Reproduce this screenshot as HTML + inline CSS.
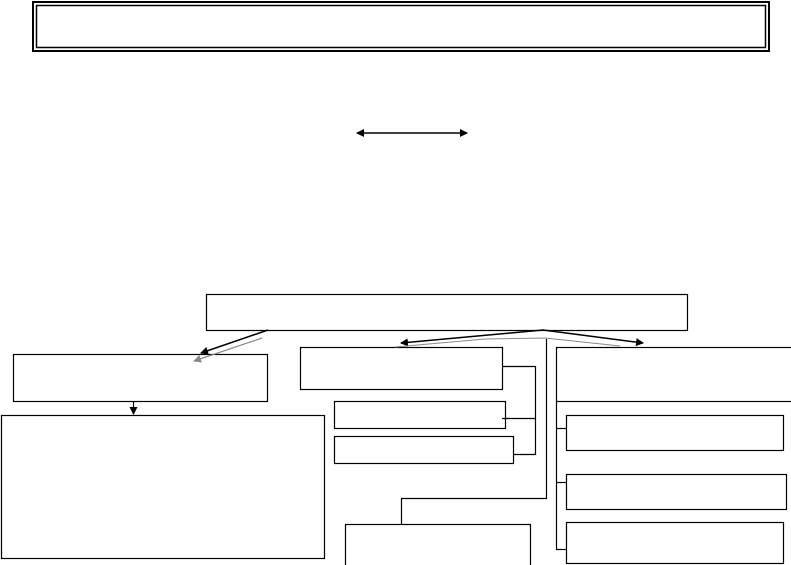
<!DOCTYPE html>
<html><head><meta charset="utf-8"><style>
html,body{margin:0;padding:0;background:#fff;width:791px;height:565px;overflow:hidden}
</style></head><body>
<svg width="791" height="565" viewBox="0 0 791 565" xmlns="http://www.w3.org/2000/svg">
<defs>
<marker id="ab" markerWidth="8" markerHeight="8" refX="7" refY="4" orient="auto-start-reverse" markerUnits="userSpaceOnUse"><path d="M0,0 L8,4 L0,8 z" fill="#000"/></marker>
<marker id="ag" markerWidth="8" markerHeight="8" refX="7" refY="4" orient="auto" markerUnits="userSpaceOnUse"><path d="M0,0 L8,4 L0,8 z" fill="#888"/></marker>
</defs>
<g fill="none" stroke="#000">
<rect x="33" y="2" width="736" height="49" stroke-width="2"/>
<rect x="36.5" y="5.5" width="729" height="42" stroke-width="1.5"/>
<line x1="357" y1="133" x2="467" y2="133" stroke-width="1.5" marker-start="url(#ab)" marker-end="url(#ab)"/>
<rect x="206.5" y="294.5" width="481" height="36" stroke-width="1.2"/>
<rect x="13.5" y="354.5" width="254" height="47" stroke-width="1.2"/>
<line x1="133.5" y1="402" x2="133.5" y2="414" stroke-width="1.2" marker-end="url(#ab)"/>
<rect x="1.5" y="415.5" width="323" height="143" stroke-width="1.2"/>
<rect x="300.5" y="347.5" width="202" height="42" stroke-width="1.2"/>
<rect x="334.5" y="401.5" width="171" height="27" stroke-width="1.2"/>
<rect x="334.5" y="436.5" width="179" height="27" stroke-width="1.2"/>
<polyline points="502,366.5 535.5,366.5 535.5,454.5 513,454.5" stroke-width="1.2"/>
<line x1="502" y1="418.5" x2="535" y2="418.5" stroke-width="1.2"/>
<polyline points="546.5,339 546.5,498.5 401.5,498.5 401.5,524" stroke-width="1.2"/>
<rect x="345.5" y="524.5" width="185" height="42" stroke-width="1.2"/>
<rect x="556.5" y="347.5" width="236" height="54" stroke-width="1.2"/>
<line x1="556.5" y1="401" x2="556.5" y2="549" stroke-width="1.2"/>
<rect x="566.5" y="415.5" width="217" height="35" stroke-width="1.2"/>
<rect x="566.5" y="474.5" width="220" height="35" stroke-width="1.2"/>
<rect x="566.5" y="522.5" width="217" height="41" stroke-width="1.2"/>
<line x1="556" y1="428.5" x2="566" y2="428.5" stroke-width="1.2"/>
<line x1="556" y1="482.5" x2="566" y2="482.5" stroke-width="1.2"/>
<line x1="556" y1="549.5" x2="566" y2="549.5" stroke-width="1.2"/>
<polyline points="543,330 401,343" stroke-width="1.5" marker-end="url(#ab)"/>
<polyline points="543,330 643,343" stroke-width="1.5" marker-end="url(#ab)"/>
<polyline points="395,347 485,339 545,338 620,346" stroke="#888" stroke-width="1"/>
<line x1="268" y1="330" x2="201" y2="353" stroke-width="1.5" marker-end="url(#ab)"/>
<line x1="262" y1="338" x2="194" y2="361" stroke="#888" stroke-width="1.2" marker-end="url(#ag)"/>
</g>
</svg>
</body></html>
